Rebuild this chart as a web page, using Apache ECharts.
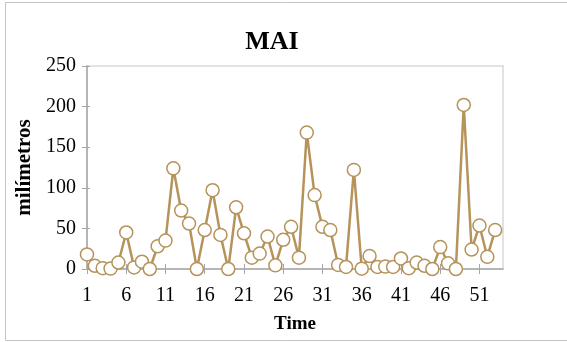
<!DOCTYPE html>
<html>
<head>
<meta charset="utf-8">
<script src="https://cdn.jsdelivr.net/npm/echarts@6/dist/echarts.min.js"></script>
<style>
  html, body { margin: 0; padding: 0; background: #fff; }
  #chart { width: 567px; height: 342px; }
</style>
</head>
<body>
<div id="chart"></div>
<script>
// Weekly series, time steps 1..53 (one spare slot at the end of the axis)
const timeSteps = Array.from({ length: 54 }, (_, i) => String(i + 1));
const maiValues = [
  18, 4, 1, 0.5, 8, 45, 2, 9, 0, 28,
  35, 124, 72, 56, 0, 48, 97, 42, 0, 76,
  44, 14, 19, 40, 4.5, 36, 52, 14, 168, 91,
  52, 48, 5, 2.5, 122, 0.4, 16, 2.5, 3, 2.5,
  13, 1, 8, 4, 0, 27, 7, 0, 202, 24,
  53.5, 15, 48
];
const yTicks = { min: 0, max: 250, interval: 50 };

const serif = '"Liberation Serif", "Times New Roman", serif';
const lineColor = '#B5935A';

const chart = echarts.init(document.getElementById('chart'), null, { renderer: 'canvas' });

const gridBox = { left: 87, right: 64, top: 66, bottom: 73 };

chart.setOption({
  animation: false,
  backgroundColor: '#ffffff',
  graphic: [{
    type: 'rect',
    shape: { x: 5.5, y: 2.5, width: 620, height: 338 },
    style: { fill: 'none', stroke: '#c4c4c4', lineWidth: 1 },
    silent: true
  }],
  title: {
    text: 'MAI',
    left: 267, top: 24, textAlign: 'center',
    textStyle: { fontFamily: serif, fontWeight: 'bold', fontSize: 26, color: '#000' }
  },
  grid: Object.assign({ show: true, borderColor: '#d9d9d9', borderWidth: 1.5, containLabel: false }, gridBox),
  xAxis: [{
    type: 'category',
    data: timeSteps,
    boundaryGap: false,
    name: 'Time',
    nameLocation: 'middle',
    nameGap: 46,
    nameTextStyle: { fontFamily: serif, fontWeight: 'bold', fontSize: 19, color: '#000' },
    axisLine: { lineStyle: { color: '#a6a6a6', width: 1.5 } },
    axisTick: { show: true, interval: 4, length: 5, lineStyle: { color: '#a6a6a6' } },
    axisLabel: { interval: 4, fontFamily: serif, fontSize: 20, color: '#000', margin: 17 },
    splitLine: { show: false }
  }, {
    // inner half of the crossing tick marks
    type: 'category',
    data: timeSteps,
    boundaryGap: false,
    position: 'bottom',
    axisLine: { show: false },
    axisTick: { show: true, inside: true, interval: 4, length: 5, lineStyle: { color: '#a6a6a6' } },
    axisLabel: { show: false },
    splitLine: { show: false }
  }],
  yAxis: [{
    type: 'value',
    min: yTicks.min, max: yTicks.max, interval: yTicks.interval,
    name: 'milímetros',
    nameLocation: 'middle',
    nameGap: 50,
    nameTextStyle: { fontFamily: serif, fontWeight: 'bold', fontSize: 21, color: '#000' },
    axisLine: { show: true, lineStyle: { color: '#a6a6a6', width: 1.5 } },
    axisTick: { show: true, length: 5, lineStyle: { color: '#a6a6a6' } },
    axisLabel: { fontFamily: serif, fontSize: 20, color: '#000', margin: 11 },
    splitLine: { show: false }
  }, {
    type: 'value',
    min: yTicks.min, max: yTicks.max, interval: yTicks.interval,
    position: 'left',
    axisLine: { show: false },
    axisTick: { show: true, inside: true, length: 3, lineStyle: { color: '#a6a6a6' } },
    axisLabel: { show: false },
    splitLine: { show: false }
  }],
  series: [{
    type: 'line',
    data: maiValues,
    symbol: 'circle',
    symbolSize: 13,
    showAllSymbol: true,
    lineStyle: { color: lineColor, width: 2.5 },
    itemStyle: { color: '#ffffff', borderColor: lineColor, borderWidth: 1.5 },
    z: 3
  }]
});
</script>
</body>
</html>
